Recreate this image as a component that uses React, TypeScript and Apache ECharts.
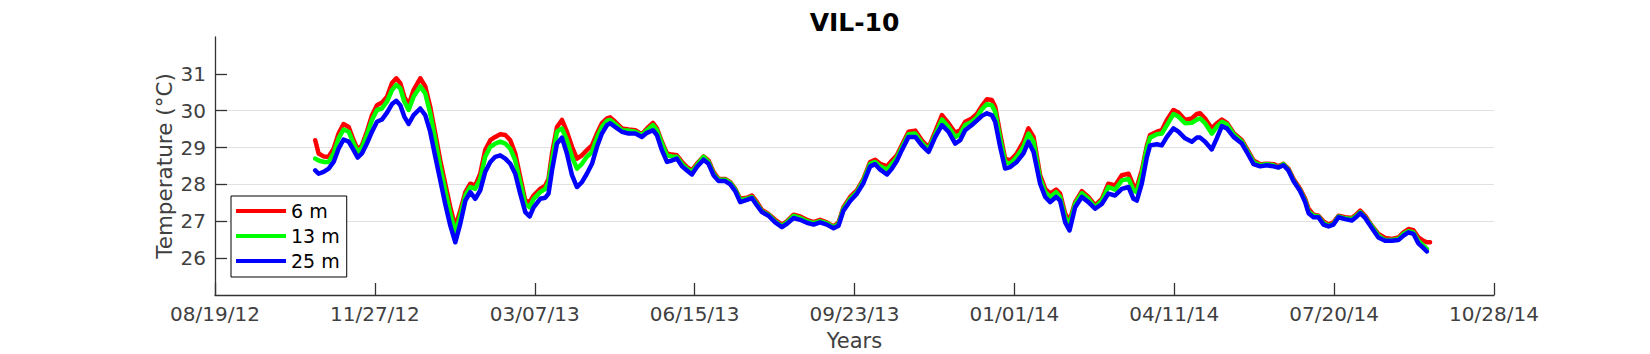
import React, { useEffect, useRef } from "react";
import * as echarts from "echarts";

// Day offsets are counted from 08/19/12 (the left end of the time axis)
const BASE_DATE_UTC = Date.UTC(2012, 7, 19);
const X_MIN_DAY = 0;
const X_MAX_DAY = 800;
const X_TICK_STEP_DAYS = 100;

const Y_MIN = 25;
const Y_MAX = 32;
const yTickValues = [26, 27, 28, 29, 30, 31];

const chartTitle = "VIL-10";
const xAxisTitle = "Years";
const yAxisTitle = "Temperature (°C)";
const seriesNames = ["6 m", "13 m", "25 m"];
const seriesColors = ["#ff0000", "#00ff00", "#0000ff"];

const days = [
  62.7, 64.8, 67.9, 71.1, 74.2, 77.3, 80.4, 83.6, 86.7, 89.2,
  91.9, 95.0, 98.2, 101.3, 104.4, 107.6, 110.7, 113.4, 115.9, 118.4,
  121.1, 124.2, 128.4, 131.5, 134.6, 137.8, 140.9, 144.0, 147.2, 150.3,
  153.4, 156.6, 159.7, 162.8, 165.9, 169.0, 172.2, 175.3, 178.4, 181.6,
  184.7, 187.8, 190.9, 194.1, 196.8, 199.3, 203.4, 206.6, 208.6, 210.8,
  213.9, 217.0, 220.1, 223.3, 226.4, 229.5, 232.6, 235.8, 238.9, 242.0,
  245.2, 247.2, 250.3, 254.5, 258.7, 262.9, 267.0, 270.2, 273.9, 276.4,
  279.5, 282.7, 285.8, 288.9,
  292.1, 295.2, 298.3, 301.4, 305.6, 308.7, 311.8, 315.0, 319.1, 322.3,
  325.4, 328.5, 332.7, 335.8, 339.0, 342.1, 346.2, 350.4, 354.6, 357.7,
  361.9, 366.0, 370.2, 374.4, 378.5, 382.7, 386.9, 390.0, 393.1, 397.3,
  401.5, 405.6, 409.8, 412.9, 416.1, 420.3, 423.4, 426.5, 429.6, 433.8,
  438.0, 442.1, 446.3, 450.5, 454.7, 458.8, 463.0, 466.1, 469.2, 473.4,
  476.5, 479.7, 482.8, 485.9, 488.0, 491.1, 494.2, 497.4, 501.5, 505.7,
  508.8, 512.0, 516.1, 519.3, 522.4, 526.1,
  528.6, 531.8, 534.5, 538.0, 542.2, 546.3, 550.5, 554.7, 558.8, 563.0,
  567.2, 571.4, 574.5, 576.6, 579.7, 582.9, 584.9, 589.1, 592.2, 595.4,
  599.5, 602.6, 606.8, 611.0, 614.1, 616.2, 619.3, 623.5, 626.6, 629.8,
  632.9, 637.1, 642.3, 645.4, 649.6, 653.7, 657.9, 662.1, 665.2, 668.3,
  671.4, 674.6, 678.7, 681.9, 684.0, 687.1, 690.2, 693.3, 696.5, 699.6,
  702.7, 706.9, 711.1, 714.2, 716.3, 719.4, 723.6, 727.7, 731.9, 736.1,
  740.2, 743.4, 746.5, 749.6, 752.7, 755.9, 758.0, 760.0,
];

const temp6m = [
  29.20, 28.84, 28.76, 28.75, 28.97, 29.38, 29.64, 29.56, 29.20, 28.95,
  29.06, 29.43, 29.88, 30.15, 30.22, 30.38, 30.75, 30.88, 30.75, 30.38,
  30.15, 30.56, 30.88, 30.66, 30.11, 29.38, 28.65, 28.02, 27.38, 26.84,
  27.29, 27.79, 28.02, 27.97, 28.29, 28.93, 29.20, 29.29, 29.36, 29.34,
  29.20, 28.84, 28.20, 27.56, 27.52, 27.70, 27.88, 27.97, 28.15, 28.84,
  29.56, 29.75, 29.43, 29.02, 28.70, 28.79, 28.93, 29.06, 29.38, 29.66,
  29.79, 29.82, 29.70, 29.52, 29.49, 29.47, 29.36, 29.52, 29.67, 29.52,
  29.16, 28.84, 28.81, 28.79,
  28.61, 28.47, 28.38, 28.56, 28.76, 28.65, 28.34, 28.15, 28.15, 28.06,
  27.88, 27.61, 27.64, 27.70, 27.52, 27.31, 27.20, 27.04, 26.91, 27.00,
  27.18, 27.13, 27.04, 26.98, 27.04, 26.97, 26.86, 26.97, 27.38, 27.66,
  27.84, 28.15, 28.61, 28.67, 28.56, 28.49, 28.65, 28.79, 29.06, 29.43,
  29.46, 29.20, 29.00, 29.43, 29.88, 29.66, 29.40, 29.47, 29.70, 29.79,
  29.91, 30.13, 30.31, 30.29, 30.11, 29.38, 28.70, 28.65, 28.84, 29.16,
  29.52, 29.29, 28.25, 27.88, 27.75, 27.86,
  27.75, 27.20, 27.02, 27.52, 27.82, 27.66, 27.43, 27.61, 28.02, 27.97,
  28.25, 28.29, 27.97, 27.93, 28.38, 29.06, 29.34, 29.43, 29.47, 29.75,
  30.02, 29.95, 29.75, 29.79, 29.91, 29.93, 29.79, 29.52, 29.66, 29.76,
  29.67, 29.40, 29.20, 28.97, 28.65, 28.55, 28.56, 28.55, 28.49, 28.56,
  28.43, 28.15, 27.88, 27.61, 27.34, 27.18, 27.15, 27.00, 26.91, 26.97,
  27.15, 27.11, 27.09, 27.20, 27.29, 27.15, 26.88, 26.66, 26.55, 26.52,
  26.56, 26.70, 26.79, 26.76, 26.56, 26.47, 26.43, 26.43,
];

const temp13m = [
  28.70, 28.65, 28.61, 28.61, 28.84, 29.25, 29.49, 29.43, 29.11, 28.88,
  29.00, 29.34, 29.75, 30.02, 30.06, 30.25, 30.56, 30.70, 30.61, 30.25,
  30.02, 30.38, 30.66, 30.47, 29.93, 29.20, 28.47, 27.84, 27.20, 26.70,
  27.15, 27.70, 27.93, 27.88, 28.15, 28.75, 29.02, 29.11, 29.16, 29.11,
  28.97, 28.65, 28.06, 27.47, 27.38, 27.61, 27.79, 27.88, 28.06, 28.65,
  29.43, 29.52, 29.20, 28.75, 28.43, 28.56, 28.75, 28.88, 29.27, 29.56,
  29.73, 29.75, 29.64, 29.47, 29.46, 29.43, 29.34, 29.47, 29.61, 29.47,
  29.11, 28.79, 28.76, 28.75,
  28.56, 28.43, 28.34, 28.52, 28.75, 28.61, 28.29, 28.13, 28.13, 28.04,
  27.86, 27.58, 27.61, 27.66, 27.47, 27.27, 27.18, 27.00, 26.87, 26.97,
  27.15, 27.09, 27.00, 26.95, 27.00, 26.95, 26.84, 26.93, 27.34, 27.61,
  27.79, 28.11, 28.56, 28.61, 28.49, 28.40, 28.56, 28.73, 29.00, 29.36,
  29.38, 29.13, 28.95, 29.36, 29.76, 29.56, 29.29, 29.36, 29.61, 29.70,
  29.82, 30.04, 30.18, 30.15, 29.97, 29.25, 28.61, 28.56, 28.75, 29.02,
  29.38, 29.16, 28.15, 27.79, 27.66, 27.79,
  27.66, 27.11, 26.93, 27.47, 27.76, 27.61, 27.38, 27.56, 27.93, 27.86,
  28.11, 28.15, 27.84, 27.79, 28.29, 29.00, 29.27, 29.36, 29.38, 29.61,
  29.91, 29.84, 29.66, 29.67, 29.76, 29.79, 29.66, 29.38, 29.56, 29.70,
  29.63, 29.36, 29.16, 28.93, 28.61, 28.52, 28.55, 28.52, 28.46, 28.55,
  28.40, 28.11, 27.84, 27.56, 27.27, 27.15, 27.13, 26.95, 26.88, 26.93,
  27.13, 27.08, 27.06, 27.16, 27.25, 27.11, 26.86, 26.61, 26.49, 26.49,
  26.52, 26.66, 26.73, 26.70, 26.47, 26.34, 26.25, null,
];

const temp25m = [
  28.38, 28.29, 28.34, 28.43, 28.61, 28.97, 29.22, 29.16, 28.93, 28.73,
  28.84, 29.11, 29.43, 29.70, 29.76, 29.95, 30.18, 30.27, 30.15, 29.84,
  29.64, 29.88, 30.06, 29.88, 29.43, 28.75, 28.11, 27.47, 26.88, 26.43,
  26.93, 27.56, 27.79, 27.61, 27.84, 28.34, 28.61, 28.75, 28.79, 28.70,
  28.56, 28.29, 27.75, 27.25, 27.13, 27.38, 27.61, 27.64, 27.75, 28.38,
  29.11, 29.27, 28.84, 28.25, 27.93, 28.06, 28.29, 28.56, 29.02, 29.38,
  29.61, 29.66, 29.56, 29.43, 29.38, 29.38, 29.29, 29.40, 29.47, 29.34,
  28.93, 28.61, 28.65, 28.70,
  28.49, 28.38, 28.27, 28.47, 28.67, 28.56, 28.25, 28.09, 28.09, 28.00,
  27.82, 27.52, 27.58, 27.63, 27.43, 27.25, 27.15, 26.97, 26.84, 26.93,
  27.09, 27.04, 26.96, 26.91, 26.97, 26.91, 26.81, 26.88, 27.29, 27.55,
  27.75, 28.04, 28.49, 28.55, 28.40, 28.27, 28.43, 28.64, 28.93, 29.29,
  29.29, 29.06, 28.88, 29.29, 29.61, 29.43, 29.11, 29.20, 29.47, 29.61,
  29.73, 29.86, 29.93, 29.88, 29.70, 29.02, 28.43, 28.47, 28.61, 28.84,
  29.16, 28.88, 28.02, 27.66, 27.52, 27.66,
  27.56, 26.97, 26.75, 27.38, 27.66, 27.52, 27.34, 27.47, 27.75, 27.70,
  27.88, 27.93, 27.61, 27.56, 28.02, 28.75, 29.06, 29.09, 29.06, 29.29,
  29.52, 29.43, 29.25, 29.16, 29.27, 29.27, 29.16, 28.95, 29.25, 29.58,
  29.52, 29.29, 29.11, 28.88, 28.55, 28.49, 28.52, 28.49, 28.46, 28.52,
  28.38, 28.09, 27.82, 27.52, 27.22, 27.11, 27.11, 26.91, 26.86, 26.91,
  27.11, 27.06, 27.02, 27.13, 27.22, 27.09, 26.82, 26.56, 26.47, 26.47,
  26.49, 26.61, 26.70, 26.66, 26.40, 26.27, 26.18, null,
];

const FONT = '"DejaVu Sans", Verdana, sans-serif';
const AXIS_COLOR = "#333333";
const LABEL_COLOR = "#404040";

function pad2(n: number): string {
  return n < 10 ? "0" + n : String(n);
}

function formatDay(d: number): string {
  const dt = new Date(BASE_DATE_UTC + Math.round(d) * 86400000);
  return (
    pad2(dt.getUTCMonth() + 1) +
    "/" +
    pad2(dt.getUTCDate()) +
    "/" +
    pad2(dt.getUTCFullYear() % 100)
  );
}

function toPairs(vals: (number | null)[]) {
  const out: [number, number][] = [];
  vals.forEach((v, i) => {
    if (v !== null && v !== undefined) out.push([days[i], v]);
  });
  return out;
}

const GRID_LEFT = 215;
const GRID_TOP = 37;
const GRID_RIGHT_EDGE = 1494;
const GRID_BOTTOM_EDGE = 295;
const W = 1650;
const H = 354;

export default function App() {
  const ref = useRef<HTMLDivElement | null>(null);

  useEffect(() => {
    if (!ref.current) return;
    const chart = echarts.init(ref.current, undefined, { renderer: "svg" });
    const allSeries = [temp6m, temp13m, temp25m];
    const option: any = {
      animation: false,
      backgroundColor: "#ffffff",
      textStyle: { fontFamily: FONT },
      grid: {
        left: GRID_LEFT,
        top: GRID_TOP,
        right: W - GRID_RIGHT_EDGE,
        bottom: H - GRID_BOTTOM_EDGE,
      },
      graphic: [
        {
          type: "text",
          x: (GRID_LEFT + GRID_RIGHT_EDGE) / 2,
          y: 22.5,
          style: {
            text: chartTitle,
            align: "center",
            verticalAlign: "middle",
            font: `bold 25px ${FONT}`,
            fill: "#000000",
          },
        },
        {
          type: "text",
          x: (GRID_LEFT + GRID_RIGHT_EDGE) / 2,
          y: 341,
          style: {
            text: xAxisTitle,
            align: "center",
            verticalAlign: "middle",
            font: `21px ${FONT}`,
            fill: LABEL_COLOR,
          },
        },
        {
          type: "text",
          x: 164,
          y: 166,
          rotation: Math.PI / 2,
          style: {
            text: yAxisTitle,
            align: "center",
            verticalAlign: "middle",
            font: `21.5px ${FONT}`,
            fill: LABEL_COLOR,
          },
        },
      ],
      legend: {
        orient: "vertical",
        left: 231,
        top: 196,
        padding: [5, 7, 6, 5],
        itemGap: 5,
        itemWidth: 50,
        itemHeight: 4,
        icon: "rect",
        backgroundColor: "#ffffff",
        borderColor: "#000000",
        borderWidth: 1,
        borderRadius: 0,
        textStyle: { fontSize: 19, color: "#000000", fontFamily: FONT, lineHeight: 20 },
        data: seriesNames,
      },
      xAxis: {
        type: "value",
        min: X_MIN_DAY,
        max: X_MAX_DAY,
        interval: X_TICK_STEP_DAYS,
        axisLine: { show: true, onZero: false, lineStyle: { color: AXIS_COLOR, width: 1.3 } },
        axisTick: { show: true, inside: true, length: 12, lineStyle: { color: AXIS_COLOR, width: 1.3 } },
        axisLabel: {
          show: true,
          margin: 9,
          fontSize: 20,
          color: LABEL_COLOR,
          fontFamily: FONT,
          formatter: (v: number) => formatDay(v),
        },
        splitLine: { show: false },
      },
      yAxis: {
        type: "value",
        min: Y_MIN,
        max: Y_MAX,
        interval: 1,
        axisLine: { show: true, lineStyle: { color: AXIS_COLOR, width: 1.3 } },
        axisTick: {
          show: true,
          inside: true,
          length: 12,
          customValues: yTickValues,
          lineStyle: { color: AXIS_COLOR, width: 1.3 },
        },
        axisLabel: {
          show: true,
          margin: 9,
          fontSize: 20,
          color: LABEL_COLOR,
          fontFamily: FONT,
          customValues: yTickValues,
          formatter: (v: number) => String(v),
        },
        splitLine: {
          show: true,
          showMinLine: false,
          showMaxLine: false,
          lineStyle: { color: "#e1e1e1", width: 1.2 },
        },
      },
      series: allSeries.map((vals, i) => ({
        name: seriesNames[i],
        type: "line",
        data: toPairs(vals),
        showSymbol: false,
        symbol: "none",
        smooth: false,
        color: seriesColors[i],
        lineStyle: { color: seriesColors[i], width: 4.5, join: "round", cap: "round" },
        z: 2 + i,
      })),
    };
    chart.setOption(option);
    return () => {
      chart.dispose();
    };
  }, []);

  return (
    <div
      ref={ref}
      style={{ position: "fixed", left: 0, top: 0, width: W, height: H, background: "#fff" }}
    />
  );
}
